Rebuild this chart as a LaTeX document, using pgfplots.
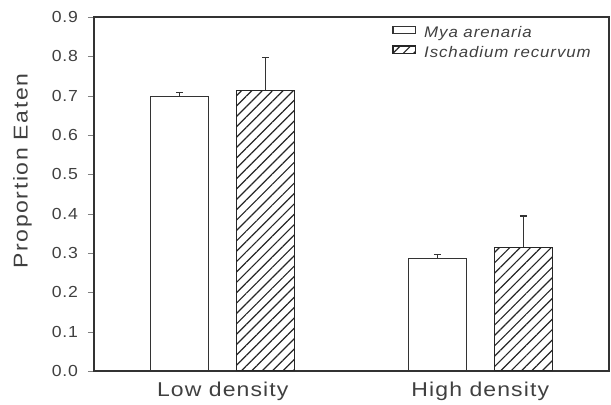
\documentclass[border=0pt]{standalone}
\usepackage{fontspec}
\setmainfont{Liberation Sans}
\newfontfamily\ticksfont[FakeStretch=1.1,LetterSpace=5]{Liberation Sans}
\newfontfamily\labelfont[FakeStretch=1.15,LetterSpace=8]{Liberation Sans}
\newfontfamily\xlabfont[FakeStretch=1.15,LetterSpace=5.5]{Liberation Sans}
\newfontfamily\legfont[FakeStretch=1.1,LetterSpace=6]{Liberation Sans}
\usepackage{pgfplots}
\pgfplotsset{compat=1.18}
\usetikzlibrary{patterns.meta}
\begin{document}
\begin{tikzpicture}[x=0.75pt,y=0.75pt]
\begin{axis}[
  scale only axis,
  width=386.25pt, height=265.5pt,
  xmin=-0.5, xmax=1.5,
  ymin=0, ymax=0.9,
  xtick={0,1},
  xticklabels={Low density, High density},
  x tick style={draw=none},
  ytick={0,0.1,...,0.9},
  ytick pos=left,
  tick align=outside,
  major tick length=4.5pt,
  yticklabel style={/pgf/number format/fixed,/pgf/number format/precision=1,/pgf/number format/fixed zerofill, xshift=-4pt},
  /pgf/number format/assume math mode=true,
  tick label style={font=\ticksfont\fontsize{12}{13}\selectfont, text=black!75},
  xticklabel style={font=\xlabfont\fontsize{15}{16}\selectfont, yshift=0pt},
  ylabel={Proportion Eaten},
  ylabel style={font=\labelfont\fontsize{15}{16}\selectfont, text=black!75, at={(axis description cs:-0.139,0.565)}, anchor=center},
  axis line style={line width=1pt, black!80},
  legend style={at={(axis description cs:0.579,0.982)}, anchor=north west, draw=none, fill=none, inner sep=0pt,
    font=\legfont\fontsize{11.5}{13}\selectfont\itshape, row sep=1pt, text=black!75},
  legend cell align=left,
  area legend,
  legend image code/.code={\draw[#1] (0pt,-0.5pt) rectangle (17pt,5pt);},
]
\addplot[ybar, bar width=0.225, bar shift=0pt, draw=black!80, line width=0.8pt, fill=white,
  error bars/.cd, y dir=plus, y explicit, error bar style={line width=0.8pt, black!80}, error mark options={rotate=90, mark size=2.5pt, line width=0.8pt}]
  coordinates {(-0.1667,0.699) +- (0,0.008) (0.8333,0.287) +- (0,0.010)};
\addlegendentry{\hspace{4pt}Mya arenaria}
\addplot[ybar, bar width=0.225, bar shift=0pt, draw=black!85, line width=0.8pt,
  pattern={Lines[angle=45, distance=5.5pt, line width=0.9pt]}, pattern color=black!85,
  error bars/.cd, y dir=plus, y explicit, error bar style={line width=0.8pt, black!80}, error mark options={rotate=90, mark size=2.5pt, line width=0.8pt}]
  coordinates {(0.1667,0.714) +- (0,0.082) (1.1667,0.315) +- (0,0.079)};
\addlegendentry{\hspace{4pt}Ischadium recurvum}
\end{axis}
\path (current axis.south west) ++(-94,-32) coordinate (bl);
\path (current axis.north east) ++(2,17) coordinate (tr);
\path (bl) rectangle (tr);
\end{tikzpicture}
\end{document}
